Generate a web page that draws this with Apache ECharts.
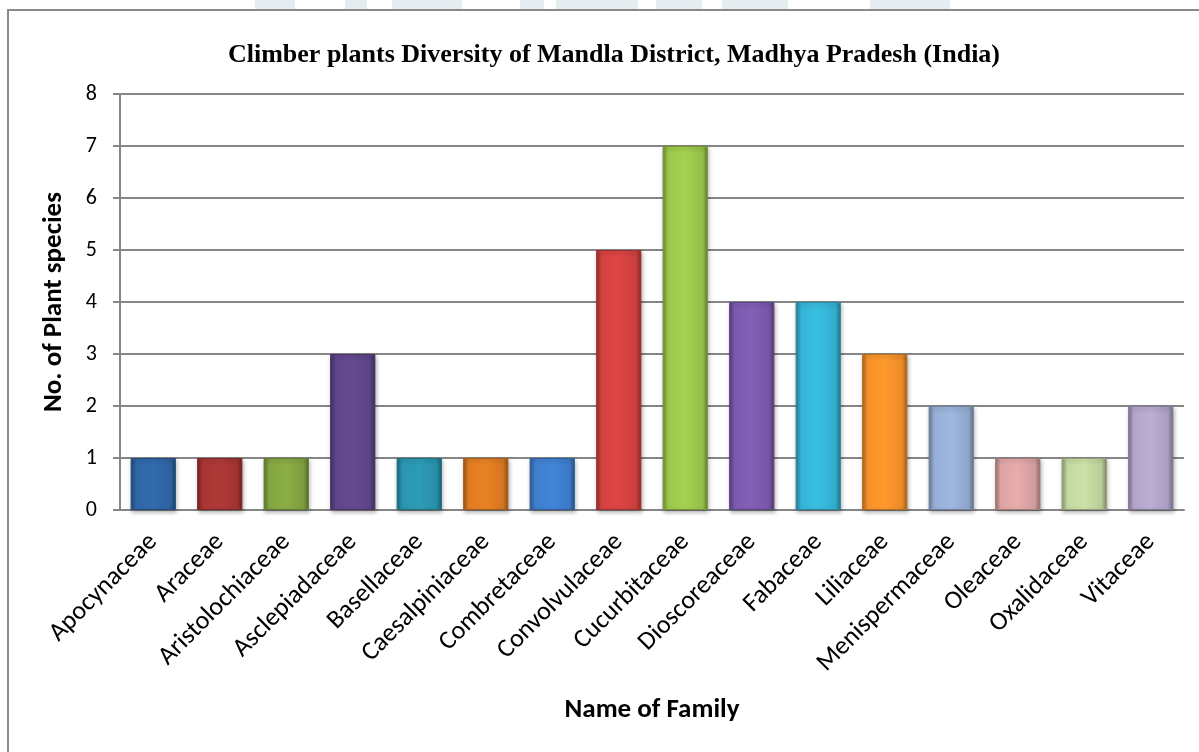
<!DOCTYPE html>
<html>
<head>
<meta charset="utf-8">
<script src="https://cdn.jsdelivr.net/npm/echarts@6/dist/echarts.min.js"></script>
<style>
  html, body { margin: 0; padding: 0; background: #fff; }
  #chart { width: 1199px; height: 752px; }
</style>
</head>
<body>
<div id="chart"></div>
<script>
// climber plant families and species counts
const families = [
  'Apocynaceae', 'Araceae', 'Aristolochiaceae', 'Asclepiadaceae', 'Basellaceae',
  'Caesalpiniaceae', 'Combretaceae', 'Convolvulaceae', 'Cucurbitaceae', 'Dioscoreaceae',
  'Fabaceae', 'Liliaceae', 'Menispermaceae', 'Oleaceae', 'Oxalidaceae', 'Vitaceae'
]
const speciesCount = [1, 1, 1, 3, 1, 1, 1, 5, 7, 4, 4, 3, 2, 1, 1, 2]

// one colour per bar (office-like palette)
const barColors = [
  '#3066a6', '#a83634', '#84a642', '#60468b', '#2a95b0', '#e07c22',
  '#3f7fcf', '#d44240', '#9cc84b', '#7d5aae', '#36b5d8', '#f7922b',
  '#97afd5', '#dda4a4', '#c3d7a0', '#b2a5ca'
]

const sansFont = 'Carlito, Calibri, Lato, sans-serif'

function shade(hex, f) {
  const n = parseInt(hex.slice(1), 16)
  let r = (n >> 16) & 255, g = (n >> 8) & 255, b = n & 255
  r = Math.round(r * f); g = Math.round(g * f); b = Math.round(b * f)
  return 'rgb(' + Math.min(r, 255) + ',' + Math.min(g, 255) + ',' + Math.min(b, 255) + ')'
}

function bevel(hex) {
  return new echarts.graphic.LinearGradient(0, 0, 1, 0, [
    { offset: 0, color: shade(hex, 0.7) },
    { offset: 0.12, color: shade(hex, 1.0) },
    { offset: 0.5, color: shade(hex, 1.05) },
    { offset: 0.88, color: shade(hex, 0.95) },
    { offset: 1, color: shade(hex, 0.65) }
  ])
}

// faint watermark strip above the frame
const markFill = '#e6edf0'
const watermark = [[255, 40], [345, 22], [392, 70], [520, 24], [556, 82], [656, 46], [722, 66], [870, 80]]
  .map(([x, w]) => ({
    type: 'rect', shape: { x: x, y: 0, width: w, height: 9 },
    style: { fill: markFill }, silent: true, z: -2
  }))

const chart = echarts.init(document.getElementById('chart'))

chart.setOption({
  backgroundColor: '#fff',
  animation: false,
  title: {
    text: 'Climber plants Diversity of Mandla District, Madhya Pradesh (India)',
    left: 609,
    textAlign: 'center',
    top: 37,
    textStyle: { fontFamily: '"Liberation Serif", "Times New Roman", serif', fontWeight: 'bold', fontSize: 26, color: '#000' }
  },
  graphic: watermark.concat([
    {
      type: 'rect',
      shape: { x: 8, y: 10, width: 1300, height: 900 },
      style: { fill: 'none', stroke: '#8a8a8a', lineWidth: 2 },
      silent: true, z: -1
    }
  ]),
  grid: { left: 120, right: 15, top: 94, bottom: 242 },
  xAxis: {
    type: 'category',
    data: families,
    name: 'Name of Family',
    nameLocation: 'middle',
    nameGap: 187,
    nameTextStyle: { fontFamily: sansFont, fontWeight: 'bold', fontSize: 27, color: '#000' },
    axisLine: { lineStyle: { color: '#868686', width: 2 } },
    axisTick: { show: false },
    axisLabel: { rotate: 45, interval: 0, margin: 28, fontFamily: sansFont, fontSize: 26, color: '#000' }
  },
  yAxis: {
    type: 'value',
    min: 0,
    max: 8,
    interval: 1,
    name: 'No. of Plant species',
    nameLocation: 'middle',
    nameGap: 52,
    nameTextStyle: { fontFamily: sansFont, fontWeight: 'bold', fontSize: 27, color: '#000' },
    axisLine: { show: true, lineStyle: { color: '#868686', width: 2 } },
    axisTick: { show: true, length: 7, lineStyle: { color: '#868686', width: 2 } },
    splitLine: { lineStyle: { color: '#868686', width: 2 } },
    axisLabel: { margin: 23, fontFamily: sansFont, fontSize: 22, color: '#000' }
  },
  series: [{
    type: 'bar',
    barCategoryGap: '32%',
    data: speciesCount.map((v, i) => ({
      value: v,
      itemStyle: {
        color: bevel(barColors[i]),
        borderColor: shade(barColors[i], 0.75),
        borderWidth: 1,
        shadowColor: 'rgba(0,0,0,0.3)',
        shadowBlur: 4,
        shadowOffsetX: 1,
        shadowOffsetY: 2
      }
    }))
  }]
})
</script>
</body>
</html>
